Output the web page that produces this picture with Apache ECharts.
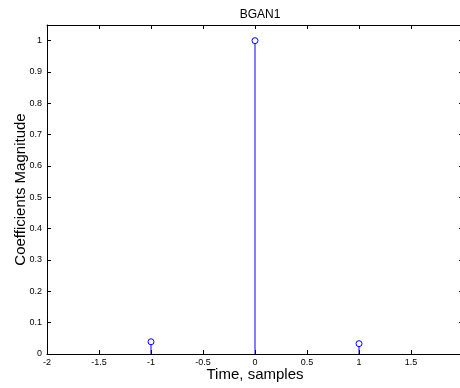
<!DOCTYPE html>
<html><head><meta charset="utf-8">
<script src="https://cdn.jsdelivr.net/npm/echarts@6/dist/echarts.min.js"></script>
<style>html,body{margin:0;padding:0;background:#fff}#c{width:460px;height:388px}</style>
</head><body><div id="c"></div>
<script>
var titleText = 'BGAN1';
var xName = 'Time, samples';
var yName = 'Coefficients Magnitude';
var sampleTimes = [-1, 0, 1];
var coefValues = [0.039, 1.0, 0.033];

var chart = echarts.init(document.getElementById('c'), null, {renderer: 'canvas'});
var font = 'Arial, "Liberation Sans", sans-serif';
var data = sampleTimes.map(function (t, i) { return [t, coefValues[i]]; });
var axisLine = {show: true, onZero: false, lineStyle: {color: '#000', width: 1}};
var tick = {show: true, inside: true, length: 4, lineStyle: {color: '#000'}};
chart.setOption({
  animation: false,
  title: {text: titleText, left: 255, top: 4, textAlign: 'center',
    textStyle: {fontFamily: font, fontSize: 12, fontWeight: 'normal', color: '#000'}},
  grid: {left: 47, top: 25, right: -3, bottom: 34, containLabel: false, outerBoundsMode: 'none'},
  xAxis: [{
    type: 'value', min: -2, max: 2, interval: 0.5, position: 'bottom',
    name: xName, nameLocation: 'middle', nameGap: 13, nameMoveOverlap: false,
    nameTextStyle: {fontFamily: font, fontSize: 15, color: '#000'},
    axisLine: axisLine, axisTick: tick, splitLine: {show: false},
    axisLabel: {fontFamily: font, fontSize: 9, color: '#000', margin: 4,
      formatter: function (v) { return v >= 2 ? '' : String(v); }}
  }, {
    type: 'value', min: -2, max: 2, interval: 0.5, position: 'top',
    axisLine: axisLine, axisTick: tick, splitLine: {show: false}, axisLabel: {show: false}
  }],
  yAxis: [{
    type: 'value', min: 0, max: 1.05, interval: 0.1, position: 'left',
    name: yName, nameLocation: 'middle', nameGap: 19, nameMoveOverlap: false,
    nameTextStyle: {fontFamily: font, fontSize: 15, color: '#000'},
    axisLine: axisLine, axisTick: tick, splitLine: {show: false},
    axisLabel: {fontFamily: font, fontSize: 9, color: '#000', margin: 5,
      formatter: function (v) { return v > 1.001 ? '' : String(Math.round(v * 10) / 10); }}
  }, {
    type: 'value', min: 0, max: 1.05, interval: 0.1, position: 'right',
    axisLine: axisLine, axisTick: tick, splitLine: {show: false}, axisLabel: {show: false}
  }],
  series: [{
    type: 'custom',
    xAxisIndex: 0, yAxisIndex: 0,
    data: data,
    renderItem: function (params, api) {
      var base = api.coord([api.value(0), 0]);
      var top = api.coord([api.value(0), api.value(1)]);
      var r = 3;
      return {
        type: 'group',
        children: [{
          type: 'line',
          shape: {x1: base[0], y1: base[1], x2: top[0], y2: top[1] + r},
          style: {stroke: '#0000ff', lineWidth: 1}
        }, {
          type: 'circle',
          shape: {cx: top[0], cy: top[1], r: r},
          style: {stroke: '#0000ff', fill: 'none', lineWidth: 1}
        }]
      };
    }
  }]
});
</script></body></html>
